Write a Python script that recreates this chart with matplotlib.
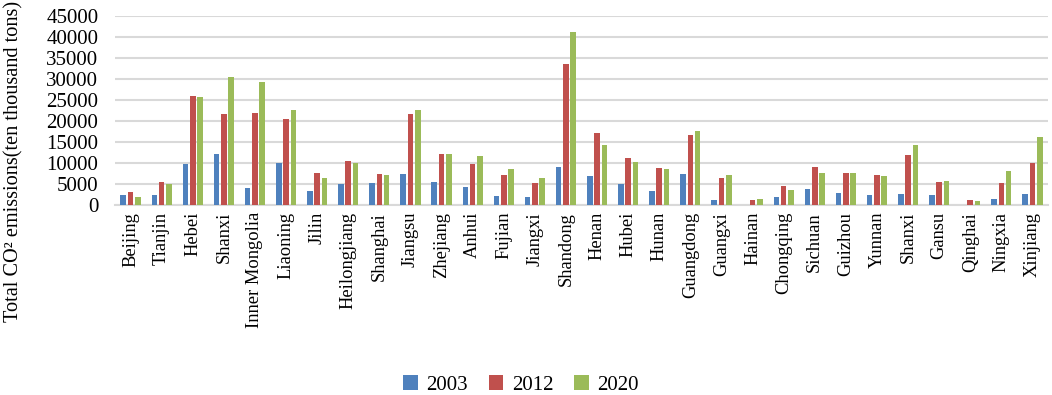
import numpy as np
import matplotlib
matplotlib.use("Agg")
import matplotlib.pyplot as plt

plt.rcParams['font.family'] = ['Liberation Serif', 'DejaVu Serif']

provinces = ["Beijing", "Tianjin", "Hebei", "Shanxi", "Inner Mongolia", "Liaoning", "Jilin",
             "Heilongjiang", "Shanghai", "Jiangsu", "Zhejiang", "Anhui", "Fujian", "Jiangxi",
             "Shandong", "Henan", "Hubei", "Hunan", "Guangdong", "Guangxi", "Hainan",
             "Chongqing", "Sichuan", "Guizhou", "Yunnan", "Shanxi", "Gansu", "Qinghai",
             "Ningxia", "Xinjiang"]

y2003 = [2380, 2400, 9690, 12140, 4050, 9920, 3260, 4920, 5160, 7380, 5400, 4290, 2060, 1830,
         9050, 6820, 4920, 3260, 7380, 1270, 0, 1830, 3810, 2930, 2380, 2700, 2380, 0,
         1510, 2700]
y2012 = [3020, 5400, 26020, 21590, 21830, 20480, 7620, 10400, 7380, 21590, 12060, 9690, 7140,
         5160, 33570, 17060, 11270, 8730, 16590, 6510, 1270, 4600, 9050, 7620, 7060, 11830,
         5400, 1270, 5160, 9920]
y2020 = [1830, 4920, 25710, 30480, 29360, 22700, 6510, 9920, 7060, 22700, 12060, 11590, 8490,
         6510, 41260, 14290, 10160, 8490, 17700, 7060, 1510, 3490, 7620, 7620, 6820, 14290,
         5710, 950, 8170, 16270]

years = ["2003", "2012", "2020"]
colors = ["#4F81BD", "#C0504D", "#9BBB59"]

fig = plt.figure(figsize=(10.52, 3.95), dpi=100)
ax = fig.add_axes([115 / 1052, 1 - 205 / 395, (1048 - 115) / 1052, (205 - 16) / 395])

x = np.arange(len(provinces))
w = 0.18
step = 0.235
for i, (vals, c, lab) in enumerate(zip([y2003, y2012, y2020], colors, years)):
    ax.bar(x + (i - 1) * step, vals, width=w, color=c, label=lab, zorder=3)

ax.set_xlim(-0.5, len(provinces) - 0.5)
ax.set_ylim(0, 45000)
ax.set_yticks(np.arange(0, 45001, 5000))
ax.tick_params(axis='y', labelsize=15, length=0, pad=12)
ax.set_xticks(x)
ax.set_xticklabels(provinces, rotation=90, fontsize=13.3)
ax.tick_params(axis='x', length=0, pad=5)
ax.grid(axis='y', color='#d9d9d9', linewidth=1.5, zorder=0)
for s in ['top', 'right', 'left']:
    ax.spines[s].set_visible(False)
ax.spines['bottom'].set_color('#d9d9d9')
ax.spines['bottom'].set_linewidth(1.5)

fig.text(14 / 1052, 1 - 161 / 395, "Total CO² emissions(ten thousand tons)",
         rotation=90, ha='center', va='center', fontsize=14.6)

fig.legend(loc='center', bbox_to_anchor=(521 / 1052, 1 - 385 / 395), ncol=3, frameon=False,
           fontsize=15, handlelength=0.7, handleheight=0.7, handletextpad=0.4,
           columnspacing=1.0)

fig.savefig("out.png", dpi=100)
